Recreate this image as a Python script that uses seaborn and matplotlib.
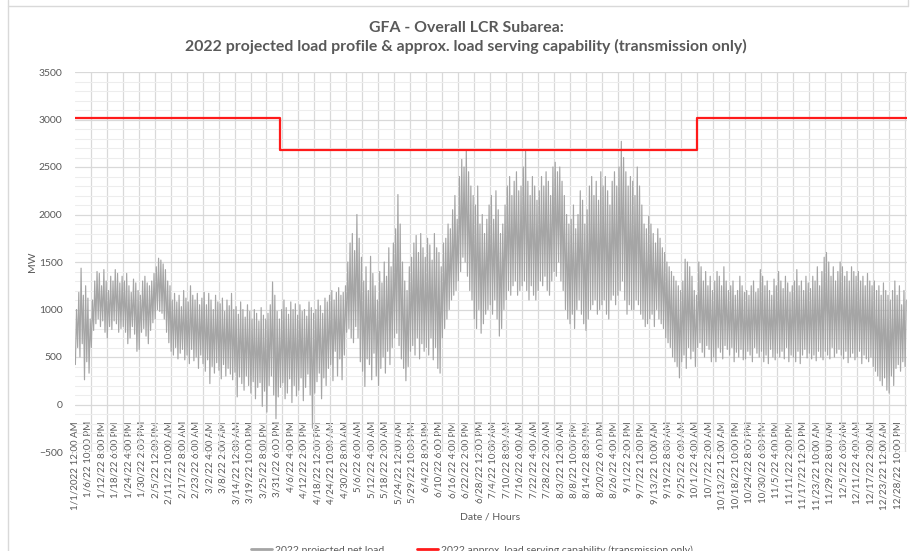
import numpy as np
import pandas as pd
import matplotlib
matplotlib.use('Agg')
import matplotlib.pyplot as plt
from matplotlib.lines import Line2D
from matplotlib.ticker import MultipleLocator
import seaborn as sns

# Daily low / high of the 2022 projected net load (MW), one row per week
day_high = [
    1000, 1180, 1435, 1150, 1250, 1120, 900,
    1100, 1300, 1400, 1380, 1250, 1420, 1300,
    1200, 1350, 1300, 1420, 1380, 1280, 1350,
    1300, 1380, 1250, 1180, 1320, 1280, 1200,
    1150, 1300, 1350, 1280, 1250, 1300, 1380,
    1450, 1540, 1520, 1480, 1420, 1300, 1250,
    1100, 1170, 1080, 1150, 1030, 1200, 1120,
    1080, 1250, 1150, 1100, 1170, 1050, 1120,
    1180, 1050, 1170, 1100, 1000, 1150, 1080,
    1060, 1120, 980, 1100, 1040, 1170, 1000,
    1030, 950, 1080, 1000, 920, 1050, 980,
    900, 1000, 960, 880, 1020, 940, 900,
    960, 1050, 1290, 1150, 980, 900, 1000,
    1100, 1020, 950, 1080, 1000, 1060, 940,
    1050, 980, 1000, 930, 1080, 1020, 960,
    1000, 1100, 1040, 960, 1120, 1080, 1150,
    1200, 1100, 1180, 1230, 1150, 1180, 1250,
    1500, 1700, 1800, 1620, 2000, 1750, 1550,
    1300, 1450, 1200, 1560, 1380, 1250, 1100,
    1400, 1280, 1500, 1350, 1650, 1450, 1700,
    1850, 2210, 1900, 1500, 1300, 1200, 1450,
    1550, 1700, 1780, 1600, 1800, 1650, 1550,
    1750, 1680, 1520, 1800, 1650, 1600, 1450,
    1700, 1750, 1900, 1850, 2050, 2200, 1950,
    2400, 2580, 2500, 2680, 2450, 2300, 2200,
    2100, 2300, 1900, 2000, 1800, 1950, 2100,
    2200, 1950, 2250, 2050, 1800, 1900, 2100,
    2300, 2400, 2200, 2350, 2450, 2250, 2300,
    2500, 2680, 2350, 2200, 2400, 2300, 2150,
    2250, 2400, 2300, 2450, 2350, 2200, 2500,
    2550, 2450, 2500, 2350, 2200, 2000, 1900,
    1950, 2100, 1850, 2000, 2250, 2150, 1900,
    2050, 2300, 2400, 2200, 2350, 2150, 2450,
    2300, 2400, 2250, 2100, 2350, 2450, 2300,
    2500, 2770, 2600, 2450, 2300, 2400, 2350,
    2200, 2500, 2300, 2100, 1900, 1850, 1980,
    1900, 1800, 1700, 1850, 1750, 1650, 1600,
    1500, 1450, 1400, 1350, 1300, 1250, 1200,
    1300, 1530, 1500, 1450, 1350, 1200, 1150,
    1500, 1450, 1300, 1400, 1250, 1350, 1200,
    1300, 1400, 1350, 1250, 1450, 1300, 1200,
    1250, 1300, 1150, 1200, 1350, 1250, 1180,
    1200, 1150, 1250, 1300, 1180, 1220, 1420,
    1350, 1250, 1300, 1200, 1150, 1320, 1250,
    1400, 1300, 1220, 1350, 1280, 1180, 1250,
    1300, 1420, 1250, 1300, 1200, 1350, 1280,
    1220, 1350, 1300, 1450, 1250, 1400, 1550,
    1600, 1500, 1350, 1450, 1300, 1400, 1500,
    1450, 1350, 1400, 1300, 1450, 1400, 1350,
    1400, 1300, 1350, 1250, 1380, 1300, 1250,
    1300, 1200, 1250, 1150, 1280, 1200, 1150,
    1100, 1200, 1300, 1150, 1250, 1050, 1200, 1100,
]
day_low = [
    420, 600, 500, 640, 260, 450, 330,
    600, 780, 850, 900, 820, 880, 760,
    700, 820, 790, 880, 850, 760, 800,
    820, 760, 640, 700, 820, 740, 560,
    580, 760, 800, 720, 640, 780, 860,
    900, 1000, 980, 960, 900, 760, 650,
    560, 520, 600, 480, 540, 580, 470,
    520, 430, 580, 460, 500, 380, 520,
    430, 350, 470, 220, 400, 330, 440,
    360, 270, 420, 300, 380, 320, 260,
    340, 80, 290, 220, 150, 300, 200,
    120, 240, 60, 180, 230, -20, 140,
    -80, 200, 300, 100, -150, 80, 180,
    230, 60, 120, 270, 20, 200, 90,
    150, 280, 40, 180, 320, 100, -250,
    120, 240, 330, 60, 280, 200, 380,
    420, 250, 560, 300, 480, 260, 520,
    760, 800, 700, 650, 820, 700, 450,
    350, 190, 480, 420, 260, 540, 300,
    200, 380, 500, 330, 560, 420, 600,
    700, 750, 620, 480, 380, 250, 400,
    560, 620, 520, 700, 480, 640, 560,
    600, 520, 700, 470, 600, 380, 330,
    700, 800, 900, 1000, 1100, 1150, 1200,
    1300, 1400, 1550, 1500, 1350, 1200, 1100,
    900, 800, 1000, 750, 850, 950, 1000,
    1050, 950, 1100, 900, 720, 800, 1000,
    1100, 1200, 1150, 1250, 1300, 1150, 1200,
    1250, 1300, 1200, 1100, 1250, 1150, 1100,
    1200, 1300, 1250, 1350, 1200, 1150, 1300,
    1400, 1350, 1500, 1300, 1200, 1000, 900,
    850, 950, 800, 1000, 1100, 950, 850,
    780, 900, 1000, 1050, 1100, 950, 1000,
    1050, 1100, 950, 900, 1100, 1150, 1050,
    1150, 1200, 1300, 1100, 950, 1050, 1000,
    1000, 1100, 1050, 950, 900, 820, 850,
    900, 950, 820, 1000, 900, 850, 800,
    700, 650, 600, 500, 450, 400, 280,
    450, 520, 380, 600, 480, 560, 400,
    600, 650, 550, 500, 620, 580, 450,
    500, 450, 600, 550, 480, 620, 580,
    520, 600, 450, 550, 500, 580, 470,
    480, 560, 520, 450, 600, 540, 500,
    560, 450, 520, 430, 580, 500, 470,
    540, 500, 560, 480, 600, 450, 520,
    500, 450, 560, 430, 520, 580, 490,
    540, 480, 520, 460, 560, 500, 470,
    560, 520, 480, 600, 500, 540, 580,
    520, 480, 560, 440, 500, 540, 470,
    500, 560, 430, 520, 480, 450, 500,
    400, 350, 300, 250, 200, 280, 150,
    120, 300, 200, 380, 420, 350, 450, 400,
]

# approx. load serving capability (transmission only), step changes
cap_dates = ['2022-01-01 00:00', '2022-04-01 00:00', '2022-10-01 00:00', '2022-12-31 23:00']
cap_values = [3020, 2675, 3020, 3020]

tick_labels = [
    '1/1/2022 12:00 AM', '1/6/22 10:00 PM', '1/12/22 8:00 PM', '1/18/22 6:00 PM',
    '1/24/22 4:00 PM', '1/30/22 2:00 PM', '2/5/22 12:00 PM', '2/11/22 10:00 AM',
    '2/17/22 8:00 AM', '2/23/22 6:00 AM', '3/2/22 4:00 AM', '3/8/22 2:00 AM',
    '3/14/22 12:00 AM', '3/19/22 10:00 PM', '3/25/22 8:00 PM', '3/31/22 6:00 PM',
    '4/6/22 4:00 PM', '4/12/22 2:00 PM', '4/18/22 12:00 PM', '4/24/22 10:00 AM',
    '4/30/22 8:00 AM', '5/6/22 6:00 AM', '5/12/22 4:00 AM', '5/18/22 2:00 AM',
    '5/24/22 12:00 AM', '5/29/22 10:00 PM', '6/4/22 8:00 PM', '6/10/22 6:00 PM',
    '6/16/22 4:00 PM', '6/22/22 2:00 PM', '6/28/22 12:00 PM', '7/4/22 10:00 AM',
    '7/10/22 8:00 AM', '7/16/22 6:00 AM', '7/22/22 4:00 AM', '7/28/22 2:00 AM',
    '8/3/22 12:00 AM', '8/8/22 10:00 PM', '8/14/22 8:00 PM', '8/20/22 6:00 PM',
    '8/26/22 4:00 PM', '9/1/22 2:00 PM', '9/7/22 12:00 PM', '9/13/22 10:00 AM',
    '9/19/22 8:00 AM', '9/25/22 6:00 AM', '10/1/22 4:00 AM', '10/7/22 2:00 AM',
    '10/13/22 12:00 AM', '10/18/22 10:00 PM', '10/24/22 8:00 PM', '10/30/22 6:00 PM',
    '11/5/22 4:00 PM', '11/11/22 2:00 PM', '11/17/22 12:00 PM', '11/23/22 10:00 AM',
    '11/29/22 8:00 AM', '12/5/22 6:00 AM', '12/11/22 4:00 AM', '12/17/22 2:00 AM',
    '12/23/22 12:00 AM', '12/28/22 10:00 PM',
]

start = pd.Timestamp('2022-01-01')

# Build the load series: morning low and afternoon high for each day
rows = []
for d, (lo, hi) in enumerate(zip(day_low, day_high)):
    rows.append((d * 24 + 4, lo))
    rows.append((d * 24 + 16, hi))
load = pd.DataFrame(rows, columns=['hour', 'MW'])

cap = pd.DataFrame({
    'hour': (pd.to_datetime(cap_dates, format='%Y-%m-%d %H:%M') - start) / pd.Timedelta(hours=1),
    'MW': cap_values,
})

tick_hours = [i * 142 for i in range(len(tick_labels))]

sns.set_style('white')
plt.rcParams['font.family'] = ['Lato', 'DejaVu Sans']

txt = '#595959'
fig = plt.figure(figsize=(9.12, 5.51), dpi=100)
ax = fig.add_axes([75 / 912, 99 / 551, 832 / 912, 380 / 551])

sns.lineplot(data=load, x='hour', y='MW', ax=ax, color='#A5A5A5', lw=0.85,
             estimator=None, sort=False, label='2022 projected net load')
sns.lineplot(data=cap, x='hour', y='MW', ax=ax, color='#FF1A1A', lw=1.6,
             estimator=None, drawstyle='steps-post',
             label='2022 approx. load serving capability (transmission only)')

# category axis crosses at 0 (set before ticks: set_position resets them)
for s in ['top', 'right', 'left']:
    ax.spines[s].set_visible(False)
ax.spines['bottom'].set_position(('data', 0))
ax.spines['bottom'].set_visible(False)

ax.set_xlim(0, 8760)
ax.set_ylim(-500, 3500)
ax.yaxis.set_major_locator(MultipleLocator(500))
ax.yaxis.set_minor_locator(MultipleLocator(100))
ax.set_xticks(tick_hours)
ax.set_xticklabels(tick_labels, rotation=90, fontsize=7, color=txt)
ax.set_xticks(np.arange(0, 8761, 168), minor=True)
ax.tick_params(axis='y', labelsize=7.5, labelcolor=txt, length=0, pad=9)
ax.tick_params(axis='x', which='both', length=0, pad=12)

ax.grid(False)
ax.grid(axis='y', which='major', color='#D9D9D9', lw=0.9)
ax.grid(axis='y', which='minor', color='#EDEDED', lw=0.8)
ax.grid(axis='x', which='minor', color='#D9D9D9', lw=0.9)
ax.set_axisbelow(True)

ax.set_xlabel('')
ax.set_ylabel('')
ax.get_legend().remove()

fig.text(466 / 912, 1 - 28 / 551, 'GFA - Overall LCR Subarea:', ha='center', va='center',
         fontsize=11.4, fontweight='bold', color=txt)
fig.text(466 / 912, 1 - 46 / 551,
         '2022 projected load profile & approx. load serving capability (transmission only)',
         ha='center', va='center', fontsize=11.4, fontweight='bold', color=txt)
fig.text(33 / 912, 1 - 262 / 551, 'MW', rotation=90, ha='center', va='center',
         fontsize=7.5, color=txt)
fig.text(490 / 912, 1 - 517 / 551, 'Date / Hours', ha='center', va='center',
         fontsize=7.5, color=txt)

handles, labels = ax.get_legend_handles_labels()
handles = [Line2D([], [], color='#A5A5A5', lw=2), Line2D([], [], color='#FF1A1A', lw=2)]
fig.legend(handles, labels, loc='upper center', bbox_to_anchor=(472 / 912, 6 / 551),
           ncol=2, frameon=False, fontsize=7.5, labelcolor=txt, borderpad=0,
           borderaxespad=0, handlelength=2.0, handletextpad=0.3, columnspacing=3.2)

# sheet cell borders around the chart area
fig.add_artist(Line2D([8 / 912, 908 / 912], [1 - 6 / 551, 1 - 6 / 551], color='#D9D9D9', lw=1))
fig.add_artist(Line2D([8 / 912, 8 / 912], [0, 1], color='#D9D9D9', lw=1))
fig.add_artist(Line2D([908 / 912, 908 / 912], [1 - 6 / 551, 1], color='#D9D9D9', lw=1))

fig.savefig('out.png', dpi=100)
